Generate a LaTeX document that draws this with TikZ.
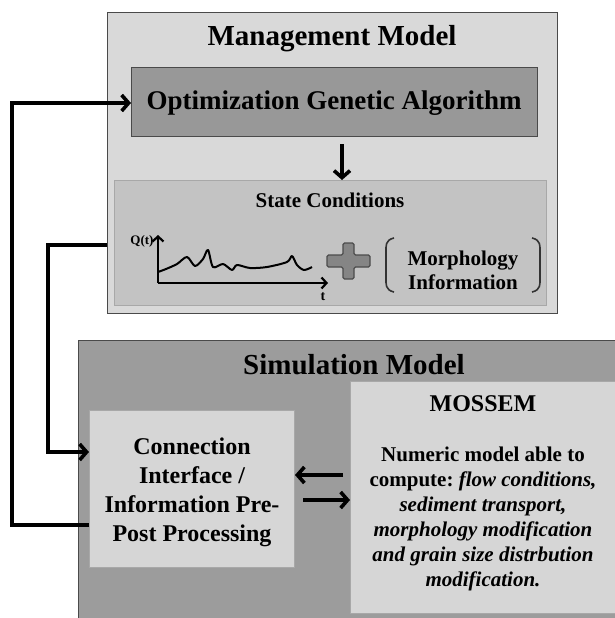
\documentclass[tikz,border=0pt]{standalone}
\usepackage{fontspec}
\setmainfont{Liberation Serif}
\usetikzlibrary{arrows.meta,calc}
\definecolor{mgmtfill}{HTML}{D9D9D9}
\definecolor{optfill}{HTML}{989898}
\definecolor{statefill}{HTML}{C3C3C3}
\definecolor{simfill}{HTML}{9C9C9C}
\definecolor{subfill}{HTML}{D6D6D6}
\definecolor{edgedark}{HTML}{4A4A4A}
\definecolor{edgelight}{HTML}{A8A8A8}
\definecolor{plusfill}{HTML}{858585}
\frenchspacing
\begin{document}
\begin{tikzpicture}[x=1pt,y=-1pt,
  panel/.style={draw=edgedark,line width=1.3pt,anchor=north west,inner sep=0pt,rectangle},
  subpanel/.style={draw=edgelight,line width=1pt,anchor=north west,inner sep=0pt,rectangle},
  lbl/.style={font=\bfseries,inner sep=0pt,align=center},
  conn/.style={line width=3.8pt,-{Straight Barb[length=7pt,width=16pt,line width=3.6pt]}},
  axis/.style={line width=2.4pt,-{Straight Barb[length=5pt,width=11pt,line width=2.2pt]}},
  bracket/.style={line width=1.6pt,draw=black!80}]
\useasboundingbox (0,0) rectangle (615,618);

% Management model
\node[panel,fill=mgmtfill,minimum width=450pt,minimum height=301pt] (mgmt) at (107,12) {};
\node[lbl,font=\bfseries\fontsize{29}{32}\selectfont] (mgmttitle) at (332,39) {Management Model};
\node[panel,fill=optfill,draw=edgedark,line width=1pt,minimum width=406pt,minimum height=69pt] (opt) at (131,67) {};
\node[lbl,font=\bfseries\fontsize{27}{30}\selectfont] (opttext) at (334,103) {Optimization Genetic Algorithm};
\node[subpanel,fill=statefill,minimum width=432pt,minimum height=125pt] (state) at (114,180) {};
\node[lbl,font=\bfseries\fontsize{21}{24}\selectfont] (statetitle) at (330,200) {State Conditions};

% hydrograph
\coordinate (orig) at (158,283);
\coordinate (yend) at (158,235);
\coordinate (xend) at (328,283);
\draw[axis] (orig) -- (yend);
\draw[axis] (orig) -- (xend);
\draw[line width=2pt,line join=round] plot[smooth,tension=0.5] coordinates {(158,272) (166,269) (177,264) (187,257) (195,266) (203,259) (208,250) (213,267) (223,264) (232,270) (237,265) (250,268) (267,267) (287,262) (292,256) (297,265) (304,270) (312,267)};
\node[lbl,font=\bfseries\fontsize{13}{15}\selectfont] (qt) at (142,241) {Q(t)};
\node[lbl,font=\bfseries\fontsize{14}{16}\selectfont] (tt) at (323,297) {t};

% plus sign
\filldraw[fill=plusfill,draw=black!70,line width=1.2pt,rounded corners=1.5pt]
  (343,243) -- (354,243) -- (354,255) -- (370,255) -- (370,267) -- (354,267) -- (354,279)
  -- (343,279) -- (343,267) -- (327,267) -- (327,255) -- (343,255) -- cycle;

% brackets and morphology
\draw[bracket] (394,238) .. controls (385,240) and (386,246) .. (386,252) -- (386,278) .. controls (386,284) and (385,290) .. (394,292);
\draw[bracket] (532,238) .. controls (541,240) and (540,246) .. (540,252) -- (540,278) .. controls (540,284) and (541,290) .. (532,292);
\node[lbl,font=\bfseries\fontsize{21}{24}\selectfont] (morph) at (463,270) {Morphology\\Information};

% Simulation model
\node[panel,fill=simfill,minimum width=560pt,minimum height=300pt] (sim) at (78,340) {};
\node[subpanel,fill=subfill,minimum width=205pt,minimum height=157pt] (cif) at (89,410) {};
\node[subpanel,fill=subfill,minimum width=267pt,minimum height=232pt] (mossem) at (350,381) {};
\node[lbl,font=\bfseries\fontsize{29}{32}\selectfont] (simtitle) at (354,365) {Simulation Model};
\node[lbl,font=\bfseries\fontsize{24}{29}\selectfont] (ciftext) at (192,492) {Connection\\Interface /\\Information Pre-\\Post Processing};
\node[lbl,font=\bfseries\fontsize{24}{27}\selectfont] (mossemtitle) at (483,404) {MOSSEM};
\node[lbl,font=\bfseries\fontsize{21}{25}\selectfont] (mossemtext) at (483,519) {Numeric model able to\\compute: \textit{flow conditions,}\\\textit{sediment transport,}\\\textit{morphology modification}\\\textit{and grain size distrbution}\\\textit{modification.}};

% connectors
\draw[conn] (opt.south -| 342,0) ++(0,7) coordinate (da) -- (da |- state.north);
\draw[conn] (mossem.west |- 0,475) ++(-7,0) coordinate (la) -- (cif.east |- la);
\draw[conn] (cif.east |- 0,500) ++(8,0) coordinate (ra) -- (mossem.west |- ra);
\coordinate (loopA) at (12,525);
\coordinate (loopB) at (12,103);
\draw[conn,line join=miter] (cif.west |- loopA) -- (loopA) -- (loopB) -- (opt.west |- loopB);
\coordinate (loopC) at (48,245);
\coordinate (loopD) at (48,452);
\draw[conn,line join=miter] (mgmt.west |- loopC) -- (loopC) -- (loopD) -- (cif.west |- loopD);
\end{tikzpicture}
\end{document}
